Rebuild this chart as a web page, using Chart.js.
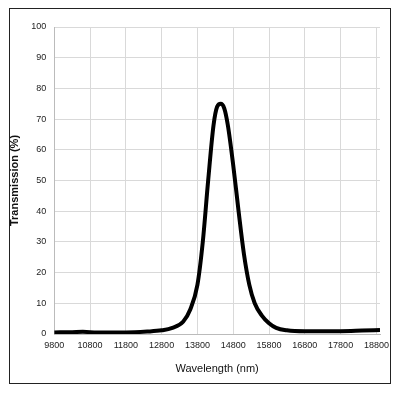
<!DOCTYPE html>
<html><head><script src="https://cdn.jsdelivr.net/npm/chart.js"></script>
<style>body{margin:0;background:#fff}#f{position:absolute;left:9px;top:8px;width:382px;height:376px;border:1.5px solid #222;box-sizing:border-box}#c{position:absolute;left:0;top:0}</style></head>
<body><div id="f"></div><canvas id="c" width="400" height="400"></canvas>
<script>
const wavelength=[9800,10300,10600,11000,11800,12400,12800,13100,13400,13600,13800,13950,14100,14250,14350,14450,14550,14650,14800,14950,15100,15250,15400,15600,15800,16000,16300,16800,17800,18400,18900];
const transmission=[0.5,0.6,0.7,0.5,0.5,0.8,1.2,2,4,8,16,30,50,68,74,75,73.5,68,55,40,26,16,10,6,3.5,2,1.2,0.9,0.9,1.1,1.3];
const xTicks=[9800,10800,11800,12800,13800,14800,15800,16800,17800,18800];
new Chart(document.getElementById('c'),{type:'line',
data:{datasets:[{data:wavelength.map((x,i)=>({x,y:transmission[i]})),borderColor:'#000',borderWidth:4,pointRadius:0,tension:0.4,cubicInterpolationMode:'monotone'}]},
options:{responsive:false,animation:false,layout:{padding:{left:4,right:20,top:27,bottom:20}},plugins:{legend:{display:false},tooltip:{enabled:false}},
scales:{x:{type:'linear',min:9800,max:18900,afterBuildTicks:a=>{a.ticks=xTicks.map(v=>({value:v}))},grid:{color:'#d9d9d9',drawTicks:false},border:{color:'#bbb'},ticks:{color:'#222',font:{family:'Liberation Sans',size:9},padding:6,maxRotation:0,autoSkip:false,callback:v=>String(v)},title:{display:true,text:'Wavelength (nm)',color:'#111',font:{family:'Liberation Sans',size:11},padding:{top:6}}},
y:{min:0,max:100,ticks:{stepSize:10,color:'#222',font:{family:'Liberation Sans',size:9},padding:8},grid:{color:'#d9d9d9',drawTicks:false},border:{color:'#bbb'},title:{display:true,text:'Transmission (%)',color:'#111',font:{family:'Liberation Sans',size:11,weight:'bold'},padding:{bottom:2}}}}}});
</script></body></html>
